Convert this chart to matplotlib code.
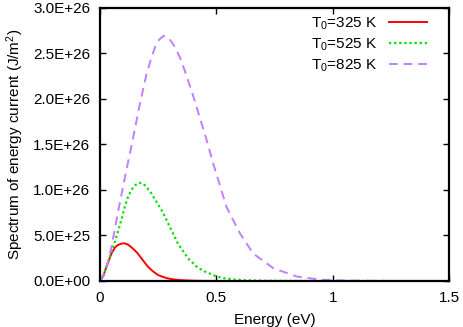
import matplotlib
matplotlib.use("Agg")
from matplotlib import pyplot as plt
from matplotlib.ticker import FormatStrFormatter

plt.rcParams["font.family"] = ["Liberation Sans", "DejaVu Sans"]
plt.rcParams["mathtext.fontset"] = "custom"
plt.rcParams["mathtext.rm"] = "Liberation Sans"
plt.rcParams["mathtext.it"] = "Liberation Sans"
plt.rcParams["mathtext.default"] = "regular"

# values (energy in eV, spectrum in J/m^2)
e_325 = [0, 0.013, 0.027, 0.049, 0.065, 0.077, 0.092, 0.106, 0.12, 0.135, 0.15,
         0.163, 0.185, 0.206, 0.228, 0.249, 0.27, 0.292, 0.32, 0.35, 0.40, 0.45,
         0.55, 1.5]
s_325 = [0, 0.05, 0.15, 0.30, 0.37, 0.395, 0.41, 0.413, 0.40, 0.37, 0.335,
         0.30, 0.225, 0.157, 0.105, 0.066, 0.045, 0.028, 0.016, 0.009, 0.003, 0.001,
         0, 0]

e_525 = [0, 0.013, 0.03, 0.049, 0.065, 0.077, 0.092, 0.105, 0.12, 0.135, 0.15,
         0.168, 0.185, 0.20, 0.221, 0.24, 0.264, 0.28, 0.30, 0.335, 0.378, 0.421,
         0.45, 0.478, 0.50, 0.535, 0.57, 0.62, 0.7, 0.8, 0.9, 1.5]
s_525 = [0, 0.05, 0.17, 0.32, 0.44, 0.54, 0.67, 0.80, 0.92, 1.00, 1.05,
         1.077, 1.07, 1.03, 0.96, 0.88, 0.78, 0.70, 0.595, 0.41, 0.25, 0.145,
         0.105, 0.075, 0.05, 0.03, 0.017, 0.008, 0.003, 0.001, 0, 0]

e_825 = [0, 0.013, 0.03, 0.049, 0.077, 0.10, 0.122, 0.143, 0.172, 0.20, 0.221,
         0.236, 0.255, 0.274, 0.30, 0.321, 0.344, 0.364, 0.385, 0.407, 0.43, 0.45,
         0.49, 0.544, 0.602, 0.659, 0.745, 0.845, 0.945, 1.05, 1.15, 1.3, 1.5]
s_825 = [0, 0.05, 0.17, 0.37, 0.75, 1.05, 1.32, 1.58, 1.95, 2.27, 2.45,
         2.56, 2.65, 2.69, 2.65, 2.57, 2.45, 2.31, 2.15, 1.98, 1.78, 1.62,
         1.26, 0.81, 0.52, 0.30, 0.14, 0.05, 0.015, 0.005, 0.002, 0, 0]

scale = 1e26
x_ticks = [0, 0.5, 1, 1.5]
x_labels = ["0", "0.5", "1", "1.5"]
y_ticks = [0, 0.5e26, 1.0e26, 1.5e26, 2.0e26, 2.5e26, 3.0e26]

fs = 11

fig = plt.figure(figsize=(4.63, 3.27), dpi=100)
ax = fig.add_axes([100 / 463, 46 / 327, 349 / 463, 273.5 / 327])

ax.plot(e_325, [v * scale for v in s_325], color="#ff0000", lw=1.4,
        label="$T_0$=325 K")
ax.plot(e_525, [v * scale for v in s_525], color="#00e000", lw=1.6,
        linestyle=(0, (1, 1.3)), label="$T_0$=525 K")
ax.plot(e_825, [v * scale for v in s_825], color="#c080ff", lw=1.4,
        linestyle=(0, (4.5, 3)), label="$T_0$=825 K")

ax.set_xlim(0, 1.5)
ax.set_ylim(0, 3e26)
ax.set_xticks(x_ticks)
ax.set_xticklabels(x_labels)
ax.set_yticks(y_ticks)
ax.yaxis.set_major_formatter(FormatStrFormatter("%.1E"))
ax.tick_params(direction="in", length=4, width=1, top=True, right=True,
               labelsize=fs, pad=7)
for sp in ax.spines.values():
    sp.set_linewidth(1.6)

ax.set_xlabel("Energy (eV)", fontsize=fs, labelpad=6)
ax.set_ylabel("Spectrum of energy current (J/m$^2$)", fontsize=fs, labelpad=5)

ax.legend(loc="upper right", frameon=False, markerfirst=False, fontsize=fs,
          handlelength=2.5, handletextpad=0.8, labelspacing=0.3,
          borderaxespad=0.1, bbox_to_anchor=(0.96, 1.0))

fig.savefig("out.png", dpi=100)
